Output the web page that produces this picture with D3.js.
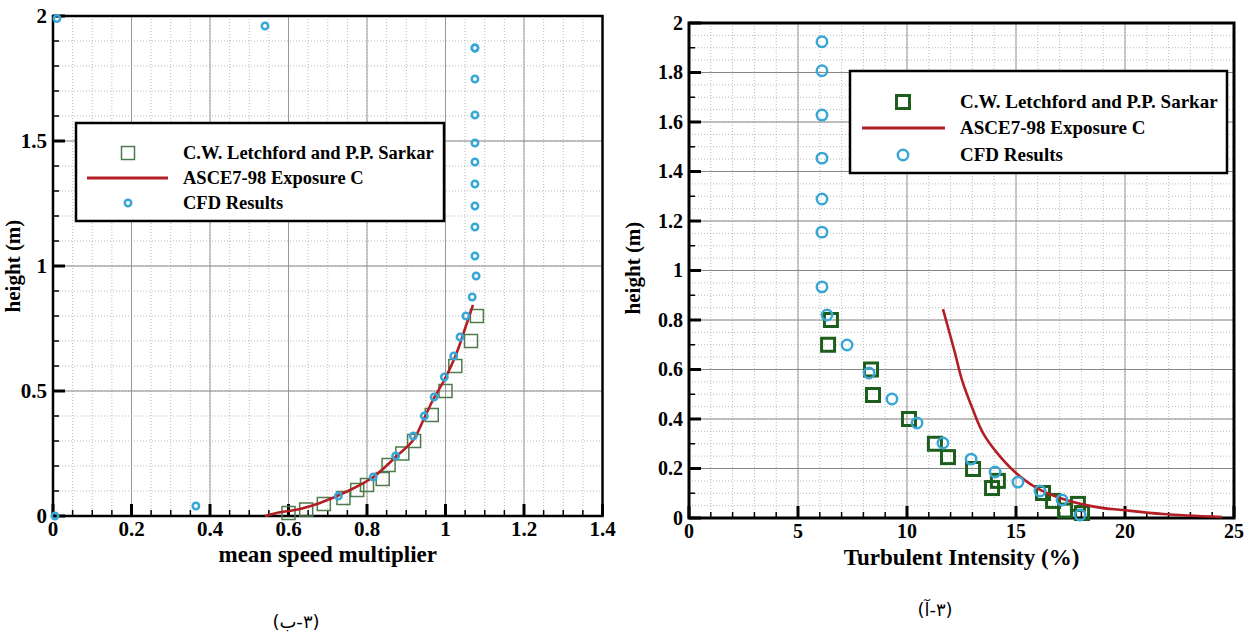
<!DOCTYPE html>
<html>
<head>
<meta charset="utf-8">
<script src="https://cdn.jsdelivr.net/npm/d3@7"></script>
<style>
body { margin: 0; background: #fff; }
text { font-family: "Liberation Serif", "Times New Roman", serif; font-weight: bold; }
</style>
</head>
<body>
<div id="chart"></div>
<script>
// ---- left panel: mean speed multiplier vs height ----
const speedLetchX = [0.60, 0.645, 0.69, 0.74, 0.775, 0.80, 0.84, 0.855, 0.89, 0.92, 0.965, 1.0, 1.025, 1.065, 1.08];
const speedLetchY = [0.012, 0.026, 0.048, 0.072, 0.104, 0.124, 0.148, 0.204, 0.25, 0.30, 0.404, 0.50, 0.60, 0.70, 0.80];

const speedAsceX = [0.54, 0.57, 0.629, 0.68, 0.757, 0.816, 0.873, 0.918, 0.946, 0.968, 0.997, 1.02, 1.035, 1.052, 1.07];
const speedAsceY = [0.0, 0.012, 0.028, 0.052, 0.104, 0.156, 0.236, 0.304, 0.392, 0.464, 0.544, 0.62, 0.68, 0.76, 0.844];

const speedCfdX = [0.005, 0.364, 0.727, 0.816, 0.873, 0.918, 0.946, 0.971, 0.997, 1.021, 1.037, 1.052, 1.068,
    1.078, 1.075, 1.075, 1.075, 1.075, 1.075, 1.075, 1.075, 1.075, 1.075, 1.075, 0.54, 0.01];
const speedCfdY = [0.0, 0.04, 0.08, 0.156, 0.24, 0.32, 0.40, 0.476, 0.556, 0.64, 0.716, 0.80, 0.876,
    0.96, 1.04, 1.156, 1.24, 1.328, 1.416, 1.492, 1.604, 1.748, 1.872, 1.872, 1.96, 1.99];

const speedXTicks = [0, 0.2, 0.4, 0.6, 0.8, 1, 1.2, 1.4];
const speedYTicks = [0, 0.5, 1, 1.5, 2];

// ---- right panel: turbulent intensity vs height ----
const turbLetchX = [6.51, 6.38, 8.35, 8.44, 10.09, 11.28, 11.88, 13.03, 14.17, 13.9, 16.24, 16.7, 17.25, 17.84, 18.03];
const turbLetchY = [0.80, 0.70, 0.60, 0.497, 0.40, 0.30, 0.246, 0.198, 0.15, 0.121, 0.101, 0.069, 0.03, 0.057, 0.02];

const turbAsceX = [11.65, 12.2, 12.52, 13.03, 13.49, 14.13, 14.95, 15.96, 17.16, 18.7, 19.9, 21.74, 24.45];
const turbAsceY = [0.844, 0.667, 0.558, 0.436, 0.343, 0.263, 0.186, 0.121, 0.077, 0.044, 0.032, 0.016, 0.004];

const turbCfdX = [6.1, 6.1, 6.1, 6.1, 6.1, 6.1, 6.1, 6.33, 7.25, 8.26, 9.31, 10.46, 11.65, 12.94, 14.04, 15.09, 16.1, 17.11, 17.94];
const turbCfdY = [1.924, 1.807, 1.628, 1.454, 1.289, 1.155, 0.934, 0.82, 0.699, 0.586, 0.481, 0.384, 0.303, 0.238, 0.186, 0.145, 0.109, 0.073, 0.012];

const turbXTicks = [0, 5, 10, 15, 20, 25];
const turbYTicks = [0, 0.2, 0.4, 0.6, 0.8, 1, 1.2, 1.4, 1.6, 1.8, 2];

const legendLabels = ["C.W. Letchford and P.P. Sarkar", "ASCE7-98 Exposure C", "CFD Results"];
const captions = ["(۳-ب)", "(۳-آ)"];

const RED = "#b21f24";
const BLUE = "#38a6d6";

//Create SVG element
var w = 1249, h = 633;
var svg = d3.select("#chart")
    .append("svg")
    .attr("width", w)
    .attr("height", h);

function zip(xs, ys) {
    return xs.map((d, i) => [d, ys[i]]);
}

function drawPanel(p) {
    var x = d3.scaleLinear().domain(p.xDomain).range([p.left, p.right]);
    var y = d3.scaleLinear().domain(p.yDomain).range([p.bottom, p.top]);
    var g = svg.append("g");

    //Minor grid (dotted)
    var xMinor = d3.range(p.xDomain[0], p.xDomain[1] + 1e-9, p.xGridMinor);
    var yMinor = d3.range(p.yDomain[0], p.yDomain[1] + 1e-9, p.yGridMinor);
    g.selectAll(".xminor").data(xMinor).join("line")
        .attr("x1", d => x(d)).attr("x2", d => x(d))
        .attr("y1", p.top).attr("y2", p.bottom)
        .attr("stroke", "#aaa").attr("stroke-width", 0.8).attr("stroke-dasharray", "1,2");
    g.selectAll(".yminor").data(yMinor).join("line")
        .attr("y1", d => y(d)).attr("y2", d => y(d))
        .attr("x1", p.left).attr("x2", p.right)
        .attr("stroke", "#aaa").attr("stroke-width", 0.8).attr("stroke-dasharray", "1,2");

    //Major grid
    g.selectAll(".xmajor").data(p.xTicks).join("line")
        .attr("x1", d => x(d)).attr("x2", d => x(d))
        .attr("y1", p.top).attr("y2", p.bottom)
        .attr("stroke", "#999").attr("stroke-width", 1);
    g.selectAll(".ymajor").data(p.yTicks).join("line")
        .attr("y1", d => y(d)).attr("y2", d => y(d))
        .attr("x1", p.left).attr("x2", p.right)
        .attr("stroke", "#888").attr("stroke-width", 1);

    //Ticks (inside)
    var xTickMinor = d3.range(p.xDomain[0], p.xDomain[1] + 1e-9, p.xTickMinor);
    var yTickMinor = d3.range(p.yDomain[0], p.yDomain[1] + 1e-9, p.yTickMinor);
    g.selectAll(".xtm").data(xTickMinor).join("line")
        .attr("x1", d => x(d)).attr("x2", d => x(d))
        .attr("y1", p.bottom).attr("y2", p.bottom - 6)
        .attr("stroke", "#000").attr("stroke-width", 1.5);
    g.selectAll(".ytm").data(yTickMinor).join("line")
        .attr("y1", d => y(d)).attr("y2", d => y(d))
        .attr("x1", p.left).attr("x2", p.left + 6)
        .attr("stroke", "#000").attr("stroke-width", 1.5);
    g.selectAll(".xt").data(p.xTicks).join("line")
        .attr("x1", d => x(d)).attr("x2", d => x(d))
        .attr("y1", p.bottom).attr("y2", p.bottom - 12)
        .attr("stroke", "#000").attr("stroke-width", 3);
    g.selectAll(".yt").data(p.yTicks).join("line")
        .attr("y1", d => y(d)).attr("y2", d => y(d))
        .attr("x1", p.left).attr("x2", p.left + 12)
        .attr("stroke", "#000").attr("stroke-width", 3);

    //Frame
    g.append("rect")
        .attr("x", p.left).attr("y", p.top)
        .attr("width", p.right - p.left).attr("height", p.bottom - p.top)
        .attr("fill", "none").attr("stroke", "#000").attr("stroke-width", p.frame);

    //Tick labels
    g.selectAll(".xl").data(p.xTicks).join("text")
        .attr("x", d => x(d)).attr("y", p.bottom + p.xLabelDy)
        .attr("text-anchor", "middle")
        .style("font-size", p.tickFont + "px")
        .text(d => d);
    g.selectAll(".yl").data(p.yTicks).join("text")
        .attr("x", p.left - 6).attr("y", d => y(d) + p.tickFont * 0.33)
        .attr("text-anchor", "end")
        .style("font-size", p.tickFont + "px")
        .text(d => d);

    //Axis titles
    g.append("text")
        .attr("x", (p.left + p.right) / 2).attr("y", p.xTitleY)
        .attr("text-anchor", "middle")
        .style("font-size", "23px")
        .text(p.xTitle);

    g.append("text")
        .attr("transform", `translate(${p.yTitleX},${p.yTitleY}) rotate(-90)`)
        .attr("text-anchor", "middle")
        .style("font-size", "21px")
        .text("height (m)");

    //Data: squares, line, circles
    g.selectAll(".sq").data(zip(p.letchX, p.letchY)).join("rect")
        .attr("x", d => x(d[0]) - p.sqSize / 2)
        .attr("y", d => y(d[1]) - p.sqSize / 2)
        .attr("width", p.sqSize).attr("height", p.sqSize)
        .attr("fill", "none").attr("stroke", p.sqColor).attr("stroke-width", p.sqStroke);

    var line = d3.line()
        .x(d => x(d[0])).y(d => y(d[1]))
        .curve(d3.curveCatmullRom);
    g.append("path")
        .datum(zip(p.asceX, p.asceY))
        .attr("d", line)
        .attr("fill", "none").attr("stroke", RED).attr("stroke-width", 2.6);

    g.selectAll(".ci").data(zip(p.cfdX, p.cfdY)).join("circle")
        .attr("cx", d => x(d[0])).attr("cy", d => y(d[1]))
        .attr("r", p.cr)
        .attr("fill", "none").attr("stroke", BLUE).attr("stroke-width", 2.5);

    //Legend
    var L = p.legend;
    var lg = g.append("g");
    lg.append("rect")
        .attr("x", L.x0).attr("y", L.y0)
        .attr("width", L.x1 - L.x0).attr("height", L.y1 - L.y0)
        .attr("fill", "#fff").attr("stroke", "#000").attr("stroke-width", 2.5);
    lg.append("rect")
        .attr("x", L.sx - p.sqSize / 2).attr("y", L.rows[0] - p.sqSize / 2)
        .attr("width", p.sqSize).attr("height", p.sqSize)
        .attr("fill", "none").attr("stroke", p.sqColor).attr("stroke-width", p.sqStroke);
    lg.append("line")
        .attr("x1", L.lx0).attr("x2", L.lx1)
        .attr("y1", L.rows[1]).attr("y2", L.rows[1])
        .attr("stroke", RED).attr("stroke-width", 3);
    lg.append("circle")
        .attr("cx", L.sx).attr("cy", L.rows[2]).attr("r", p.cr)
        .attr("fill", "none").attr("stroke", BLUE).attr("stroke-width", 2.5);
    lg.selectAll("text").data(legendLabels).join("text")
        .attr("x", L.tx).attr("y", (d, i) => L.rows[i] + 6)
        .style("font-size", L.font + "px")
        .text(d => d);

    //Caption
    svg.append("text")
        .attr("x", p.capX).attr("y", p.capY)
        .attr("direction", "rtl")
        .attr("text-anchor", "middle")
        .style("font-family", "'DejaVu Sans', sans-serif")
        .style("font-weight", "normal")
        .style("font-size", "18px")
        .text(p.caption);
}

drawPanel({
    id: "a", left: 53, right: 602.5, top: 16, bottom: 516,
    xDomain: [0, 1.4], yDomain: [0, 2],
    xTicks: speedXTicks, yTicks: speedYTicks,
    xGridMinor: 0.05, yGridMinor: 0.1, xTickMinor: 0.05, yTickMinor: 0.1,
    frame: 2.5, tickFont: 21, xLabelDy: 20,
    xTitle: "mean speed multiplier", xTitleY: 562,
    yTitleX: 20, yTitleY: 266,
    letchX: speedLetchX, letchY: speedLetchY,
    asceX: speedAsceX, asceY: speedAsceY,
    cfdX: speedCfdX, cfdY: speedCfdY,
    sqSize: 13, sqStroke: 1.5, sqColor: "#4e7b4e", cr: 3.2,
    legend: { x0: 76, y0: 123, x1: 444, y1: 221, sx: 128, lx0: 87, lx1: 168, tx: 183, rows: [153, 178, 203], font: 18.5 },
    caption: captions[0], capX: 296, capY: 628
});

drawPanel({
    id: "b", left: 689, right: 1234, top: 23, bottom: 518,
    xDomain: [0, 25], yDomain: [0, 2],
    xTicks: turbXTicks, yTicks: turbYTicks,
    xGridMinor: 1, yGridMinor: 0.05, xTickMinor: 1, yTickMinor: 0.1,
    frame: 3, tickFont: 20, xLabelDy: 20,
    xTitle: "Turbulent Intensity (%)", xTitleY: 565,
    yTitleX: 640, yTitleY: 268,
    letchX: turbLetchX, letchY: turbLetchY,
    asceX: turbAsceX, asceY: turbAsceY,
    cfdX: turbCfdX, cfdY: turbCfdY,
    sqSize: 13, sqStroke: 3, sqColor: "#1d5e1d", cr: 5.2,
    legend: { x0: 850, y0: 71, x1: 1227, y1: 173, sx: 903, lx0: 862, lx1: 945, tx: 960, rows: [102, 128, 155], font: 19 },
    caption: captions[1], capX: 935, capY: 616
});
</script>
</body>
</html>
